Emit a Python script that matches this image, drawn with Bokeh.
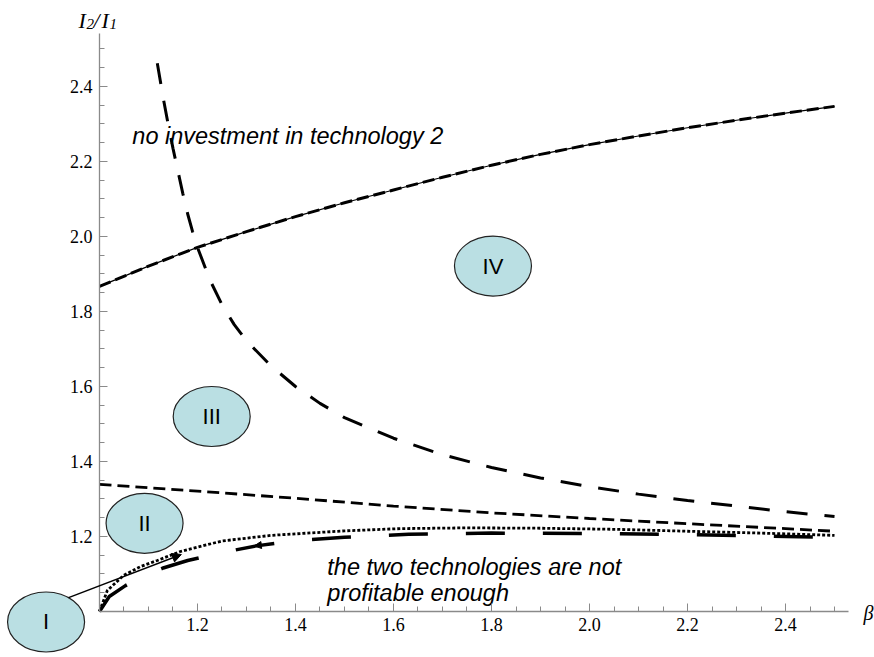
from bokeh.plotting import figure
from bokeh.models import Range1d, FixedTicker, NumeralTickFormatter, Arrow, NormalHead
from bokeh.core.properties import value
from bokeh.embed import file_html
from bokeh.resources import INLINE

# --- boundary curves: relative investment I2/I1 against beta ---
beta_upper = [1.0, 1.1, 1.2, 1.3, 1.4, 1.5, 1.6, 1.7, 1.8, 1.9, 2.0, 2.1, 2.2, 2.3, 2.4, 2.5]
ratio_upper = [1.867, 1.921, 1.971, 2.013, 2.053, 2.090, 2.124, 2.158, 2.190, 2.219,
               2.245, 2.268, 2.290, 2.310, 2.329, 2.347]

beta_steep = [1.118, 1.13, 1.14, 1.15, 1.16, 1.17, 1.18, 1.19, 1.2, 1.225, 1.25, 1.275,
              1.3, 1.35, 1.4, 1.45, 1.5, 1.6, 1.7, 1.8, 1.9, 2.0, 2.1, 2.2, 2.3, 2.4, 2.5]
ratio_steep = [2.462, 2.37, 2.30, 2.235, 2.175, 2.115, 2.06, 2.013, 1.971, 1.885, 1.818,
               1.765, 1.722, 1.655, 1.600, 1.555, 1.517, 1.462, 1.418, 1.384, 1.356,
               1.333, 1.313, 1.296, 1.281, 1.266, 1.253]

beta_flat = [1.0, 1.2, 1.4, 1.6, 1.8, 2.0, 2.2, 2.4, 2.5]
ratio_flat = [1.339, 1.321, 1.302, 1.281, 1.263, 1.248, 1.234, 1.221, 1.214]

beta_dotted = [1.0, 1.016, 1.049, 1.084, 1.118, 1.165, 1.25, 1.35, 1.5, 1.614, 1.75, 1.9,
               2.057, 2.2, 2.35, 2.5]
ratio_dotted = [1.0, 1.056, 1.096, 1.12, 1.136, 1.160, 1.188, 1.203, 1.215, 1.221, 1.223,
                1.222, 1.219, 1.214, 1.209, 1.203]

beta_lower = [1.0, 1.02, 1.053, 1.084, 1.13, 1.18, 1.25, 1.32, 1.4, 1.5, 1.631, 1.8, 2.0,
              2.2, 2.4, 2.5]
ratio_lower = [1.0, 1.04, 1.069, 1.091, 1.116, 1.136, 1.157, 1.175, 1.189, 1.198, 1.206,
               1.209, 1.208, 1.205, 1.200, 1.197]

# --- region markers ---
region_names = ["I", "II", "III", "IV"]
region_beta = [0.891, 1.092, 1.229, 1.803]
region_ratio = [0.972, 1.235, 1.520, 1.921]

# --- ticks ---
x_major = [1.2, 1.4, 1.6, 1.8, 2.0, 2.2, 2.4]
y_major = [1.2, 1.4, 1.6, 1.8, 2.0, 2.2, 2.4]
x_minor = [1.05, 1.1, 1.15, 1.25, 1.3, 1.35, 1.45, 1.5, 1.55, 1.65, 1.7, 1.75, 1.85, 1.9,
           1.95, 2.05, 2.1, 2.15, 2.25, 2.3, 2.35, 2.45, 2.5]
y_minor = [1.05, 1.1, 1.15, 1.25, 1.3, 1.35, 1.45, 1.5, 1.55, 1.65, 1.7, 1.75, 1.85, 1.9,
           1.95, 2.05, 2.1, 2.15, 2.25, 2.3, 2.35, 2.45, 2.5]

# --- annotation texts and anchors ---
note_text = ["no investment in technology 2", "the two technologies are not", "profitable enough"]
note_beta = [1.067, 1.465, 1.465]
note_ratio = [2.269, 1.118, 1.049]

arrow_from = (0.937, 1.037)
arrow_to = (1.167, 1.152)
flow_mark = (1.316, 1.175)

p = figure(width=874, height=657,
           x_range=Range1d(0.798, 2.5816), y_range=Range1d(0.8773, 2.6293),
           output_backend="svg", toolbar_location=None, title=None, min_border=0)
p.grid.visible = False
p.outline_line_color = None
p.background_fill_color = "white"
p.border_fill_color = "white"

# axes crossing at (1, 1)
for ax, major, minor, bnd in ((p.xaxis[0], x_major, x_minor, (1.0, 2.528)),
                              (p.yaxis[0], y_major, y_minor, (1.0, 2.541))):
    ax.fixed_location = 1.0
    ax.bounds = bnd
    ax.ticker = FixedTicker(ticks=major, minor_ticks=minor)
    ax.formatter = NumeralTickFormatter(format="0.0")
    ax.axis_line_color = "#8a8a8a"
    ax.axis_line_width = 1.3
    ax.major_tick_line_color = "#8a8a8a"
    ax.minor_tick_line_color = "#8a8a8a"
    ax.major_tick_in = 8
    ax.major_tick_out = 0
    ax.minor_tick_in = 5
    ax.minor_tick_out = 0
    ax.major_label_text_font = "'Liberation Serif', serif"
    ax.major_label_text_font_size = "18px"
    ax.major_label_text_color = "black"
    ax.major_label_standoff = 7

# curves
p.line(beta_upper, ratio_upper, line_color="black", line_width=1.2)
p.line(beta_upper, ratio_upper, line_color="black", line_width=3, line_dash="12 5")
p.line(beta_steep, ratio_steep, line_color="black", line_width=3, line_dash="21 17")
p.line(beta_flat, ratio_flat, line_color="black", line_width=2.8, line_dash="12 6")
p.line(beta_dotted, ratio_dotted, line_color="black", line_width=2.8, line_dash="3 2")
p.line(beta_lower, ratio_lower, line_color="black", line_width=3.5, line_dash="39 38")

# direction marks
p.add_layout(Arrow(end=NormalHead(size=9, fill_color="black", line_color="black"),
                   x_start=arrow_from[0], y_start=arrow_from[1],
                   x_end=arrow_to[0], y_end=arrow_to[1],
                   line_color="black", line_width=1.4))
p.add_layout(Arrow(end=NormalHead(size=7, fill_color="black", line_color="black"),
                   x_start=flow_mark[0] + 0.02, y_start=flow_mark[1] + 0.003,
                   x_end=flow_mark[0], y_end=flow_mark[1],
                   line_color="black", line_width=0))

# region ellipses and numerals
p.ellipse(region_beta, region_ratio, width=77, height=60,
          width_units="screen", height_units="screen",
          fill_color="#badfe3", line_color="#222222", line_width=1.2)
p.text(region_beta, region_ratio, text=region_names, text_align="center",
       text_baseline="middle", text_font=value("Liberation Sans"),
       text_font_size="22px", text_color="black")

# notes
p.text(note_beta, note_ratio, text=note_text, text_align="left",
       text_baseline="alphabetic", text_font=value("Liberation Sans"),
       text_font_style="italic", text_font_size="23.5px", text_color="black")

# axis names
p.text([2.5816], [1.0], text=["β"], text_align="right", text_baseline="middle",
       x_offset=-1, y_offset=2, text_font=value("Liberation Serif"),
       text_font_style="italic", text_font_size="20px", text_color="black")
lab_x = [1.0] * 5
lab_y = [2.541] * 5
p.text(lab_x, lab_y, text=["I", "2", "/", "I", "1"],
       x_offset=[-21, -13, -6, 2, 10], y_offset=[-13, -10, -13, -13, -10],
       text_align="left", text_baseline="alphabetic",
       text_font=value("Liberation Serif"), text_font_style="italic",
       text_font_size=["22px", "15px", "22px", "22px", "15px"], text_color="black")

open("out.html", "w").write(file_html(p, INLINE))
